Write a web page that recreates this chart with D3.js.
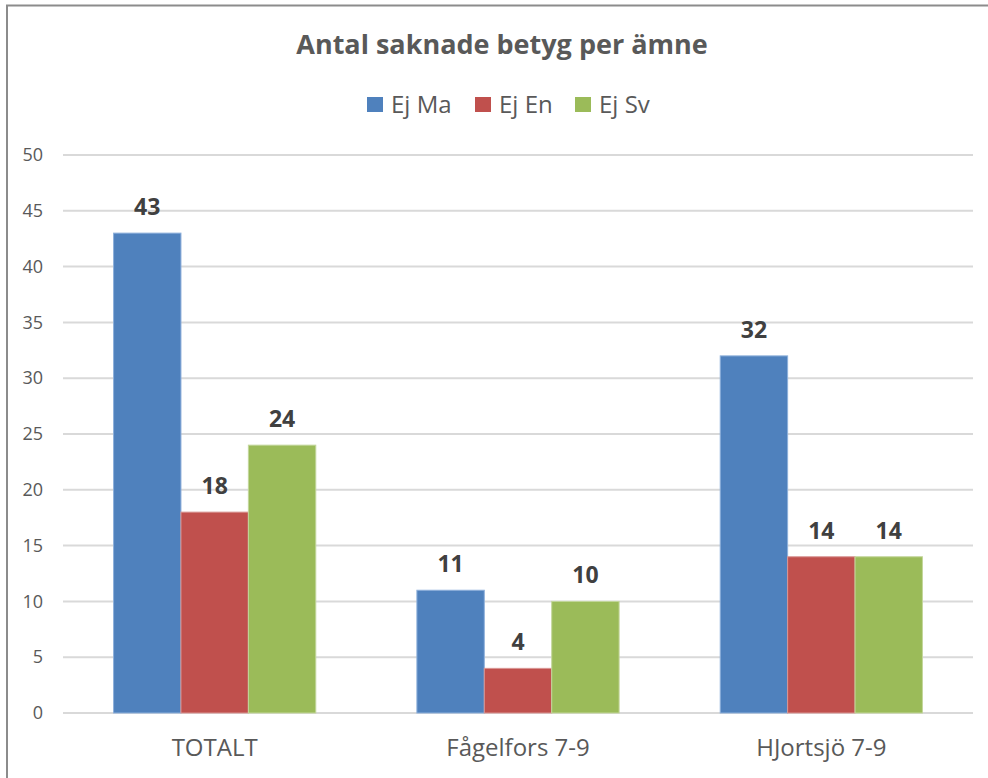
<!DOCTYPE html>
<html>
<head>
<meta charset="utf-8">
<script src="https://cdn.jsdelivr.net/npm/d3@7"></script>
<style>
  body { margin: 0; background: #fff; }
  text { font-family: "Open Sans", sans-serif; }
</style>
</head>
<body>
<div id="chart"></div>
<script>
// data
var categories = ["TOTALT", "Fågelfors 7-9", "HJortsjö 7-9"];
var seriesNames = ["Ej Ma", "Ej En", "Ej Sv"];
var ejMa = [43, 11, 32];
var ejEn = [18, 4, 14];
var ejSv = [24, 10, 14];
var yTicks = [0, 5, 10, 15, 20, 25, 30, 35, 40, 45, 50];
var colors = ["#4f81bd", "#c0504d", "#9bbb59"];
var strokes = ["#8eb0db", "#d99694", "#c3d69b"];

var W = 988, H = 778;
var margin = {top: 155, right: 15, bottom: 65, left: 63},
    width = W - margin.left - margin.right,
    height = H - margin.top - margin.bottom;

var svg = d3.select("#chart")
  .append("svg")
  .attr("width", W)
  .attr("height", H);

// chart frame (left + top edges visible)
svg.append("path")
  .attr("d", "M7,778 L7,5.5 L988,5.5")
  .attr("fill", "none")
  .attr("stroke", "#8c8c8c")
  .attr("stroke-width", 2);

svg.append("text")
  .attr("x", 502)
  .attr("y", 54)
  .attr("text-anchor", "middle")
  .style("font-size", "27px")
  .style("font-weight", "bold")
  .style("fill", "#595959")
  .text("Antal saknade betyg per ämne");

// legend
var legendX = [367, 475, 575];
var legend = svg.selectAll(".legend")
  .data(seriesNames)
  .enter()
  .append("g")
  .attr("transform", function(d, i) { return "translate(" + legendX[i] + ",97)"; });
legend.append("rect")
  .attr("width", 16).attr("height", 15)
  .attr("fill", function(d, i) { return colors[i]; });
legend.append("text")
  .attr("x", 24).attr("y", 16)
  .style("font-size", "24px")
  .style("fill", "#595959")
  .text(function(d) { return d; });

var g = svg.append("g")
  .attr("transform", "translate(" + margin.left + "," + margin.top + ")");

var y = d3.scaleLinear().domain([0, 50]).range([height, 0]);
var x0 = d3.scaleBand().domain(categories).range([0, width]);
var x1 = d3.scaleBand().domain(seriesNames)
  .range([x0.bandwidth() * 1.5 / 9, x0.bandwidth() * 7.5 / 9]);

// gridlines
g.selectAll(".grid")
  .data(yTicks)
  .enter()
  .append("line")
  .attr("x1", 0).attr("x2", width)
  .attr("y1", function(d) { return y(d); })
  .attr("y2", function(d) { return y(d); })
  .attr("stroke", "#d9d9d9")
  .attr("stroke-width", 2);

// y axis labels
var yAxis = g.append("g")
  .call(d3.axisLeft(y).tickValues(yTicks).tickSize(0).tickPadding(20));
yAxis.select(".domain").remove();
yAxis.selectAll("text")
  .style("font-size", "18px")
  .style("font-family", "'Open Sans', sans-serif")
  .style("fill", "#595959");

// x axis labels
var xAxis = g.append("g")
  .attr("transform", "translate(0," + height + ")")
  .call(d3.axisBottom(x0).tickSize(0).tickPadding(26));
xAxis.select(".domain").remove();
xAxis.selectAll("text")
  .style("font-size", "24px")
  .style("font-family", "'Open Sans', sans-serif")
  .style("fill", "#595959");

var rows = categories.map(function(c, i) {
  return {cat: c, vals: [ejMa[i], ejEn[i], ejSv[i]]};
});

var groups = g.selectAll(".grp")
  .data(rows)
  .enter()
  .append("g")
  .attr("transform", function(d) { return "translate(" + x0(d.cat) + ",0)"; });

groups.selectAll("rect")
  .data(function(d) { return d.vals.map(function(v, i) { return {s: seriesNames[i], v: v, i: i}; }); })
  .enter()
  .append("rect")
  .attr("x", function(d) { return x1(d.s); })
  .attr("width", x1.bandwidth())
  .attr("y", function(d) { return y(d.v); })
  .attr("height", function(d) { return height - y(d.v); })
  .attr("fill", function(d) { return colors[d.i]; })
  .attr("stroke", function(d) { return strokes[d.i]; })
  .attr("stroke-width", 1);

groups.selectAll(".lbl")
  .data(function(d) { return d.vals.map(function(v, i) { return {s: seriesNames[i], v: v}; }); })
  .enter()
  .append("text")
  .attr("x", function(d) { return x1(d.s) + x1.bandwidth() / 2; })
  .attr("y", function(d) { return y(d.v) - 18; })
  .attr("text-anchor", "middle")
  .style("font-size", "23px")
  .style("font-weight", "bold")
  .style("fill", "#404040")
  .text(function(d) { return d.v; });
</script>
</body>
</html>
